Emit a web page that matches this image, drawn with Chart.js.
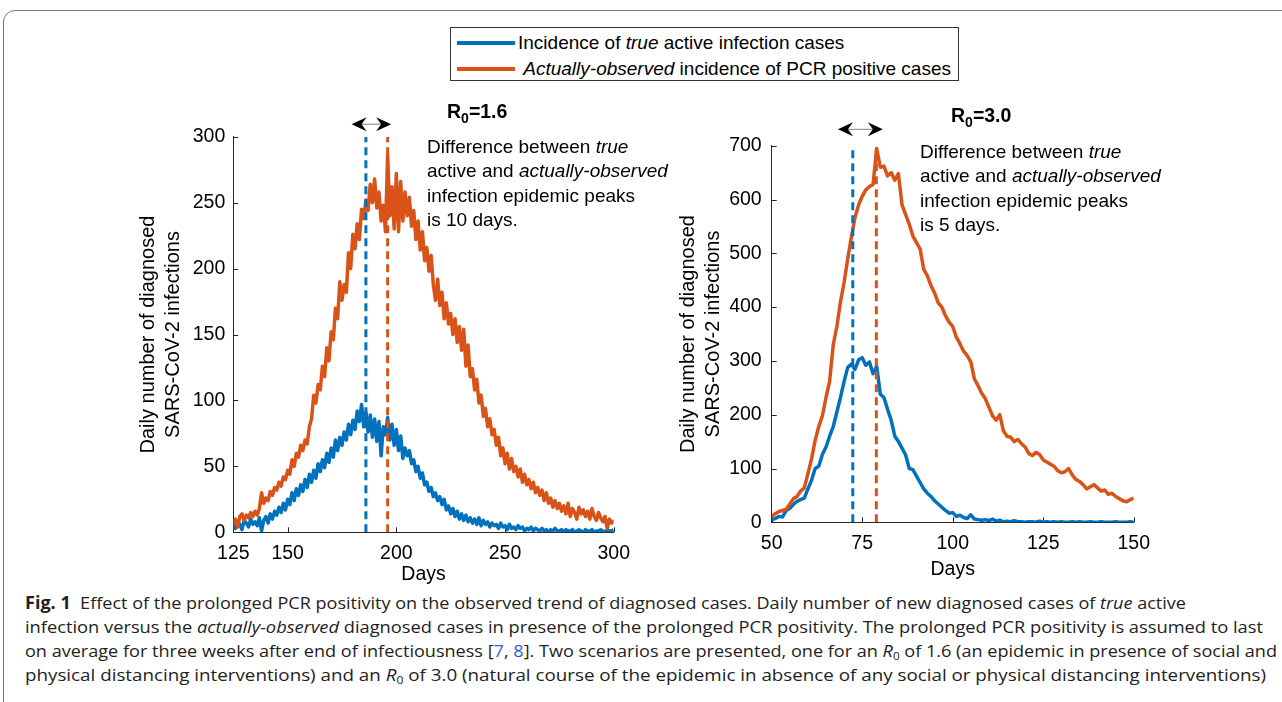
<!DOCTYPE html>
<html>
<head>
<meta charset="utf-8">
<script src="https://cdn.jsdelivr.net/npm/chart.js@4.4.1/dist/chart.umd.min.js"></script>
<style>
  html, body { margin:0; padding:0; background:#fff; }
  body { width:1282px; height:702px; position:relative; overflow:hidden; font-family:"Liberation Sans", Arial, sans-serif; color:#000; }
  .frame { position:absolute; left:3px; top:10px; width:1320px; height:740px; border:1px solid #777; border-radius:12px; }
  canvas { position:absolute; }
  .legend { position:absolute; left:450px; top:27px; width:507px; height:52px; border:1px solid #333; background:#fff; font-size:19px; }
  .legend .row { position:absolute; left:6px; height:22px; line-height:22px; display:flex; align-items:center; white-space:nowrap; }
  .legend .sw { display:inline-block; width:58px; height:4px; margin-right:3px; }
  .note { position:absolute; font-size:19px; line-height:24.3px; white-space:nowrap; }
  .r0 { position:absolute; font-size:19.5px; font-weight:bold; line-height:20px; white-space:nowrap; }
  .r0 sub { font-size:14px; vertical-align:-5px; line-height:0; }
  .caption { position:absolute; left:25px; top:591px; font-family:"Liberation Sans Narrow", "Open Sans", sans-serif; font-size:17px; line-height:24px; color:#222; }
  .caption div { white-space:nowrap; transform-origin:0 50%; width:max-content; }
  .caption a { color:#2b5fd9; text-decoration:none; }
  .caption sub { font-size:11px; vertical-align:-3px; line-height:0; }
</style>
</head>
<body>
<div class="frame"></div>

<div class="legend">
  <div class="row" style="top:4px"><span class="sw" style="background:#0072BD"></span>Incidence of&nbsp;<i>true</i>&nbsp;active infection cases</div>
  <div class="row" style="top:30px"><span class="sw" style="background:#D95319"></span>&nbsp;<i>Actually-observed</i>&nbsp;incidence of PCR positive cases</div>
</div>

<canvas id="left" width="520" height="490" style="left:120px; top:100px"></canvas>
<canvas id="right" width="500" height="485" style="left:660px; top:100px"></canvas>

<div class="r0" style="left:447px; top:101px">R<sub>0</sub>=1.6</div>
<div class="note" style="left:427px; top:135px">Difference between <i>true</i><br>active and <i>actually-observed</i><br>infection epidemic peaks<br>is 10 days.</div>

<div class="r0" style="left:951px; top:105px">R<sub>0</sub>=3.0</div>
<div class="note" style="left:920px; top:140px">Difference between <i>true</i><br>active and <i>actually-observed</i><br>infection epidemic peaks<br>is 5 days.</div>

<div class="caption" id="caption">
  <div data-w="1161"><b>Fig. 1</b>&nbsp; Effect of the prolonged PCR positivity on the observed trend of diagnosed cases. Daily number of new diagnosed cases of <i>true</i> active</div>
  <div data-w="1238">infection versus the <i>actually-observed</i> diagnosed cases in presence of the prolonged PCR positivity. The prolonged PCR positivity is assumed to last</div>
  <div data-w="1252">on average for three weeks after end of infectiousness [<a>7</a>, <a>8</a>]. Two scenarios are presented, one for an <i>R</i><sub>0</sub> of 1.6 (an epidemic in presence of social and</div>
  <div data-w="1241">physical distancing interventions) and an <i>R</i><sub>0</sub> of 3.0 (natural course of the epidemic in absence of any social or physical distancing interventions)</div>
</div>

<script>
const BLUE = '#0072BD';
const ORANGE = '#D95319';
const FONT = '"Liberation Sans", Arial, sans-serif';

// R0 = 1.6, days 125..300
const leftFirstDay = 125;
const leftLastDay = 300;
const leftTrue = [
  5, 3, 8, 6, 2, 9, 7, 4, 10, 6,
  8, 5, 11, 1, 9, 12, 7, 14, 10, 16,
  13, 19, 15, 22, 17, 25, 21, 30, 24, 33,
  28, 36, 31, 40, 34, 44, 38, 47, 41, 52,
  46, 55, 49, 60, 53, 64, 57, 70, 62, 72,
  66, 76, 70, 82, 74, 85, 78, 92, 84, 97,
  80, 91, 76, 89, 72, 86, 69, 84, 58, 80,
  74, 87, 70, 82, 66, 78, 62, 73, 56, 64,
  58, 62, 52, 55, 46, 50, 41, 45, 36, 38,
  31, 34, 27, 30, 24, 27, 21, 25, 17, 20,
  14, 18, 12, 16, 10, 14, 9, 13, 8, 11,
  7, 10, 6, 11, 5, 9, 6, 8, 4, 7,
  5, 6, 3, 7, 4, 5, 2, 6, 3, 4,
  2, 5, 3, 4, 1, 3, 2, 4, 1, 3,
  2, 1, 3, 1, 2, 0, 2, 1, 3, 1,
  1, 2, 0, 2, 1, 1, 2, 0, 1, 2,
  1, 0, 2, 1, 1, 2, 0, 1, 1, 2,
  1, 0, 2, 1, 1, 2
];
const leftObserved = [
  6, 10, 4, 12, 14, 9, 13, 11, 15, 12,
  16, 13, 18, 30, 22, 26, 24, 31, 28, 34,
  32, 38, 35, 42, 40, 47, 44, 55, 50, 60,
  57, 66, 62, 70, 67, 80, 86, 104, 98, 112,
  108, 126, 118, 140, 130, 152, 146, 170, 162, 190,
  176, 188, 182, 212, 200, 226, 215, 234, 222, 245,
  238, 252, 244, 264, 250, 268, 246, 258, 236, 248,
  228, 286, 240, 262, 230, 272, 228, 266, 236, 258,
  240, 254, 232, 244, 222, 236, 214, 228, 206, 216,
  198, 210, 188, 176, 192, 172, 182, 162, 174, 158,
  166, 150, 162, 144, 156, 138, 154, 126, 142, 118,
  124, 108, 116, 98, 104, 88, 94, 80, 86, 74,
  78, 66, 72, 58, 64, 52, 60, 48, 56, 46,
  50, 42, 48, 38, 44, 36, 40, 33, 38, 30,
  34, 28, 32, 24, 30, 22, 26, 19, 24, 18,
  22, 16, 20, 14, 22, 12, 18, 15, 10, 19,
  14, 17, 12, 16, 10, 18, 12, 9, 15, 11,
  8, 12, 3, 10, 7, 9
];
const leftPeaks = [186, 196];          // true peak, observed peak
const leftArrow = [179.4, 197.6];
const leftXTicks = [125, 150, 200, 250, 300];
const leftYTicks = [0, 50, 100, 150, 200, 250, 300];

// R0 = 3.0, days 50..150
const rightFirstDay = 50;
const rightLastDay = 150;
const rightTrue = [
  5, 7, 11, 10, 22, 26, 33, 39, 42, 45,
  62, 78, 100, 104, 126, 140, 160, 178, 205, 232,
  262, 288, 294, 284, 302, 306, 292, 298, 276, 290,
  238, 232, 210, 190, 160, 150, 138, 125, 100, 98,
  86, 74, 62, 54, 48, 40, 34, 28, 22, 17,
  18, 11, 13, 9, 7, 14, 6, 5, 4, 5,
  3, 6, 2, 4, 1, 2, 1, 3, 1, 1,
  0, 1, 1, 0, 2, 0, 1, 0, 1, 0,
  1, 0, 0, 1, 0, 1, 0, 0, 1, 0,
  0, 1, 0, 0, 0, 1, 0, 0, 0, 1,
  0
];
const rightObserved = [
  11, 16, 20, 22, 24, 34, 44, 48, 58, 64,
  90, 118, 152, 178, 198, 232, 262, 330, 364, 410,
  446, 490, 530, 566, 590, 606, 618, 624, 628, 695,
  660, 662, 644, 650, 636, 648, 590, 572, 554, 532,
  520, 508, 470, 458, 440, 426, 408, 400, 384, 372,
  364, 344, 332, 318, 310, 298, 266, 254, 240, 230,
  214, 198, 190, 200, 170, 160, 158, 150, 154, 146,
  140, 128, 124, 130, 126, 116, 112, 108, 104, 96,
  92, 94, 100, 88, 80, 76, 70, 62, 66, 70,
  64, 58, 60, 52, 54, 48, 44, 40, 38, 42,
  45
];
const rightPeaks = [72.4, 78.9];
const rightArrow = [68.3, 80.7];
const rightXTicks = [50, 75, 100, 125, 150];
const rightYTicks = [0, 100, 200, 300, 400, 500, 600, 700];

const yTitle = ['Daily number of diagnosed', 'SARS-CoV-2 infections'];

function toPoints(first, values) {
  return values.map((v, i) => ({ x: first + i, y: v }));
}

// MATLAB-style tick marks pointing into the plot
const inwardTicks = {
  id: 'inwardTicks',
  beforeDatasetsDraw(chart) {
    const { ctx, chartArea: a, scales: { x, y } } = chart;
    ctx.save();
    ctx.strokeStyle = '#262626';
    ctx.lineWidth = 1;
    ctx.beginPath();
    x.ticks.forEach(t => {
      const px = Math.round(x.getPixelForValue(t.value)) + 0.5;
      ctx.moveTo(px, a.bottom); ctx.lineTo(px, a.bottom - 5);
    });
    y.ticks.forEach(t => {
      const py = Math.round(y.getPixelForValue(t.value)) + 0.5;
      ctx.moveTo(a.left, py); ctx.lineTo(a.left + 5, py);
    });
    ctx.stroke();
    ctx.restore();
  }
};

// double headed arrow above the two peak lines
const doubleArrow = {
  id: 'doubleArrow',
  afterDraw(chart, args, o) {
    if (!o || o.from == null) return;
    const { ctx, chartArea: a, scales: { x } } = chart;
    const x1 = x.getPixelForValue(o.from);
    const x2 = x.getPixelForValue(o.to);
    const yy = a.top - o.above;
    ctx.save();
    ctx.strokeStyle = '#808080';
    ctx.lineWidth = 1;
    ctx.beginPath(); ctx.moveTo(x1 + 6, yy); ctx.lineTo(x2 - 6, yy); ctx.stroke();
    ctx.fillStyle = '#000';
    const head = (tip, dir) => {
      ctx.beginPath();
      ctx.moveTo(tip, yy);
      ctx.lineTo(tip + dir * 15, yy - 7);
      ctx.lineTo(tip + dir * 10, yy);
      ctx.lineTo(tip + dir * 15, yy + 7);
      ctx.closePath();
      ctx.fill();
    };
    head(x1, 1);
    head(x2, -1);
    ctx.restore();
  }
};

function makeChart(id, c) {
  const dash = (xv, color, yMax) => ({
    data: [{ x: xv, y: 0 }, { x: xv, y: yMax }],
    borderColor: color, borderWidth: 3, borderDash: [8, 5],
    pointRadius: 0, order: 0
  });
  const yMax = c.yTicks[c.yTicks.length - 1];
  return new Chart(document.getElementById(id), {
    type: 'line',
    data: {
      datasets: [
        { data: toPoints(c.first, c.trueCases), borderColor: BLUE, borderWidth: 3.5, pointRadius: 0, order: 2, borderJoinStyle: 'round' },
        { data: toPoints(c.first, c.observed), borderColor: ORANGE, borderWidth: 3.5, pointRadius: 0, order: 1, borderJoinStyle: 'round' },
        dash(c.peaks[0], BLUE, yMax),
        dash(c.peaks[1], ORANGE, yMax)
      ]
    },
    options: {
      responsive: false,
      animation: false,
      devicePixelRatio: 1,
      layout: { padding: c.pad },
      plugins: {
        legend: { display: false },
        tooltip: { enabled: false },
        doubleArrow: { from: c.arrow[0], to: c.arrow[1], above: c.arrowAbove }
      },
      scales: {
        x: {
          type: 'linear', min: c.first, max: c.last,
          afterBuildTicks: s => { s.ticks = c.xTicks.map(v => ({ value: v })); },
          afterFit: s => { s.height = c.xH; },
          grid: { display: true, drawOnChartArea: false, drawTicks: false },
          border: { display: true, color: '#262626', width: 1 },
          ticks: { color: '#000', font: { size: 19.5, family: FONT }, padding: 10, maxRotation: 0, autoSkip: false },
          title: { display: true, text: 'Days', color: '#000', font: { size: 19.5, family: FONT, lineHeight: 1.2 }, padding: { top: 0, bottom: 4 } }
        },
        y: {
          min: 0, max: yMax,
          afterBuildTicks: s => { s.ticks = c.yTicks.map(v => ({ value: v })); },
          afterFit: s => { s.width = c.yW; },
          grid: { display: true, drawOnChartArea: false, drawTicks: false },
          border: { display: true, color: '#262626', width: 1 },
          ticks: { color: '#000', font: { size: 19.5, family: FONT }, padding: c.yPad },
          title: { display: true, text: yTitle, color: '#000', font: { size: 20, family: FONT, lineHeight: 1.26 }, padding: { top: 15.5, bottom: 0 } }
        }
      }
    },
    plugins: [inwardTicks, doubleArrow]
  });
}

makeChart('left', {
  first: leftFirstDay, last: leftLastDay,
  trueCases: leftTrue, observed: leftObserved,
  peaks: leftPeaks, arrow: leftArrow, arrowAbove: 12.5,
  xTicks: leftXTicks, yTicks: leftYTicks,
  pad: { top: 36.7, right: 22, left: 0, bottom: 0 },
  yW: 113.3, xH: 57.7, yPad: 8
});

makeChart('right', {
  first: rightFirstDay, last: rightLastDay,
  trueCases: rightTrue, observed: rightObserved,
  peaks: rightPeaks, arrow: rightArrow, arrowAbove: 16.4,
  xTicks: rightXTicks, yTicks: rightYTicks,
  pad: { top: 45.7, right: 19, left: 0, bottom: 0 },
  yW: 111.7, xH: 62.7, yPad: 10
});

// squeeze each caption line to the width it has in the figure
document.querySelectorAll('#caption div').forEach(el => {
  const target = Number(el.dataset.w);
  const w = el.getBoundingClientRect().width;
  if (w > 0) el.style.transform = `scaleX(${target / w})`;
});
</script>
</body>
</html>
